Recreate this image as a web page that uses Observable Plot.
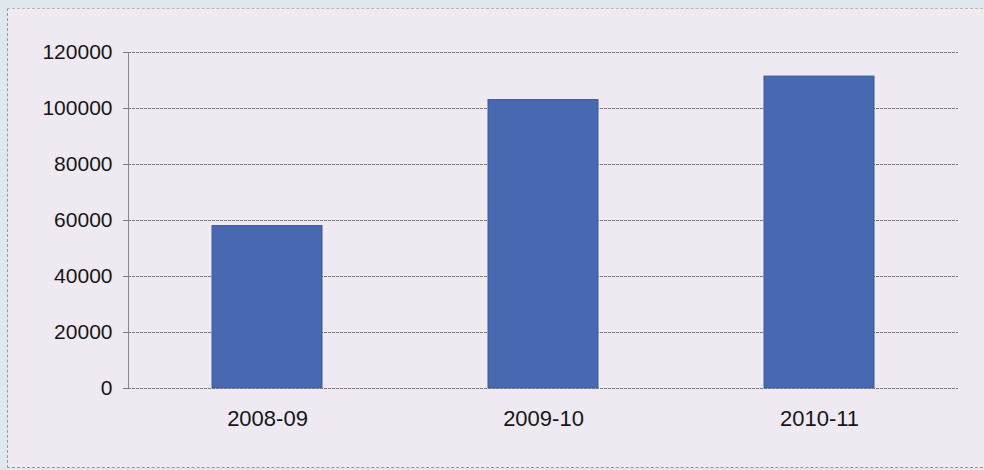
<!DOCTYPE html>
<html>
<head>
<meta charset="utf-8">
<script src="https://cdn.jsdelivr.net/npm/d3@7"></script>
<script src="https://cdn.jsdelivr.net/npm/@observablehq/plot@0.6"></script>
<style>
  html, body { margin: 0; padding: 0; }
  body { width: 984px; height: 470px; background: #dfe7ef; overflow: hidden; }
  #wrap { position: relative; width: 984px; height: 470px; }
  #panel { position: absolute; left: 7px; top: 8px; width: 990px; height: 458px;
           background: #efeaf1; border-left: 1px dashed #9a9a9a; border-top: 1px dashed #b8b8a0; border-bottom: 1px dashed #9a9a9a; }
  #chart { position: absolute; left: 0; top: 0; }
</style>
</head>
<body>
<div id="wrap"><div id="panel"></div><div id="chart"></div></div>
<script>
const years = ["2008-09", "2009-10", "2010-11"];
const values = [58000, 103000, 111400];
const yTicks = [0, 20000, 40000, 60000, 80000, 100000, 120000];

const data = years.map((year, i) => ({year, value: values[i]}));

const chart = Plot.plot({
  width: 984,
  height: 470,
  marginLeft: 128,
  marginRight: 26,
  marginTop: 52,
  marginBottom: 82,
  style: {background: "transparent", fontFamily: "'Liberation Sans', Arial, sans-serif", color: "#161616"},
  x: {domain: years, paddingInner: 0.6, paddingOuter: 0.3, label: null},
  y: {domain: [0, 120000], label: null},
  marks: [
    Plot.gridY(yTicks, {stroke: "#7a7a7a", strokeOpacity: 1, strokeDasharray: "3,1", strokeWidth: 1}),
    Plot.frame({anchor: "left", stroke: "#8a8a8a", strokeDasharray: "3,1"}),
    Plot.barY(data, {x: "year", y: "value", fill: "#4869b2", stroke: "#3b5a98", strokeWidth: 1}),
    Plot.axisY(yTicks, {tickSize: 5, tickPadding: 11, fontSize: 21, tickFormat: d => String(d), stroke: "#7a7a7a"}),
    Plot.axisX({tickSize: 0, tickPadding: 22, fontSize: 22}),
    Plot.ruleY([0], {stroke: "#7a7a7a", strokeDasharray: "3,1"})
  ]
});
document.getElementById("chart").append(chart);
</script>
</body>
</html>
